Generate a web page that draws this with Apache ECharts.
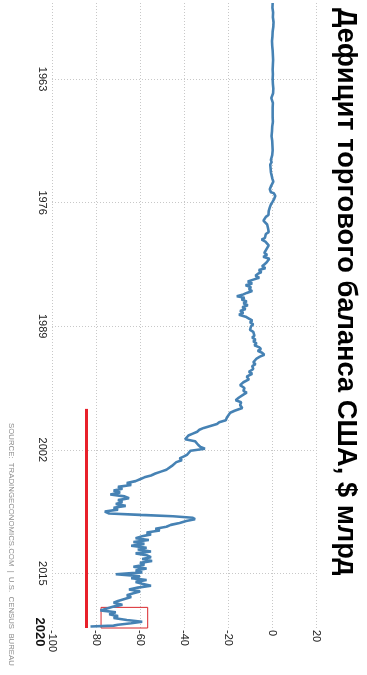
<!DOCTYPE html>
<html><head><meta charset="utf-8">
<script src="https://cdn.jsdelivr.net/npm/echarts@6/dist/echarts.min.js"></script>
<style>html,body{margin:0;padding:0;background:#fff;}#c{width:367px;height:675px;}</style>
</head><body><div id="c"></div>
<script>
const titleText = 'Дефицит торгового баланса США, $ млрд';
const sourceText = 'SOURCE:  TRADINGECONOMICS.COM  |  U.S.  CENSUS  BUREAU';
const yearTicks = [1963, 1976, 1989, 2002, 2015];
const lastYearLabel = '2020';
const firstYear = 1955;
const lastYear = 2020.75;

const years = [
1955.0,1955.5,1956.0,1956.5,1957.0,1957.5,1958.0,1958.5,1959.0,1959.5,
1960.0,1960.5,1961.0,1961.5,1962.0,1962.5,1963.0,1963.5,1964.0,1964.5,
1965.0,1965.5,1966.0,1966.5,1967.0,1967.5,1968.0,1968.5,1969.0,1969.5,
1970.0,1970.5,1971.0,1971.5,1971.75,1972.0,1972.5,1972.8,1973.0,1973.5,
1973.8,1974.0,1974.3,1974.6,1974.9,1975.0,1975.3,1975.6,1975.9,1976.2,
1976.5,1976.7,1976.9,1977.1,1977.3,1977.5,1977.7,1977.9,1978.1,1978.3,
1978.5,1978.7,1978.9,1979.1,1979.3,1979.5,1979.7,1979.9,1980.1,1980.3,
1980.5,1980.7,1980.9,1981.1,1981.3,1981.5,1981.7,1981.9,1982.1,1982.3,
1982.5,1982.7,1982.9,1983.1,1983.3,1983.5,1983.7,1983.9,1984.1,1984.3,
1984.5,1984.7,1984.9,1985.1,1985.3,1985.5,1985.7,1985.85,1986.0,1986.2,
1986.4,1986.6,1986.8,1987.0,1987.2,1987.4,1987.6,1987.8,1988.0,1988.2,
1988.4,1988.6,1988.8,1989.0,1989.2,1989.4,1989.6,1989.8,1990.0,1990.2,
1990.4,1990.6,1990.8,1991.0,1991.2,1991.4,1991.6,1991.8,1992.0,1992.2,
1992.4,1992.6,1992.8,1993.0,1993.2,1993.5,1993.8,1994.0,1994.3,1994.6,
1994.9,1995.2,1995.5,1995.8,1996.0,1996.2,1996.5,1996.8,1997.0,1997.3,
1997.6,1997.9,1998.1,1998.3,1998.6,1998.9,1999.1,1999.3,1999.5,1999.7,
1999.9,2000.1,2000.3,2000.5,2000.7,2000.9,2001.1,2001.3,2001.5,2001.7,
2001.9,2002.1,2002.3,2002.5,2002.7,2002.9,2003.1,2003.3,2003.5,2003.7,
2003.9,2004.1,2004.3,2004.5,2004.7,2004.9,2005.1,2005.3,2005.5,2005.7,
2005.9,2006.1,2006.3,2006.5,2006.7,2006.9,2007.1,2007.3,2007.5,2007.7,
2007.9,2008.1,2008.3,2008.5,2008.7,2008.85,2009.0,2009.15,2009.3,2009.5,
2009.7,2009.9,2010.1,2010.3,2010.5,2010.7,2010.9,2011.1,2011.3,2011.5,
2011.7,2011.9,2012.1,2012.3,2012.5,2012.7,2012.9,2013.1,2013.3,2013.5,
2013.7,2013.9,2014.1,2014.3,2014.5,2014.7,2014.9,2015.1,2015.3,2015.5,
2015.7,2015.9,2016.1,2016.3,2016.5,2016.7,2016.9,2017.1,2017.3,2017.5,
2017.7,2017.9,2018.1,2018.3,2018.5,2018.7,2018.9,2019.1,2019.3,2019.5,
2019.7,2019.9,2020.1,2020.25,2020.4,2020.5,2020.6
];
const balance = [
0.3,0.2,0.5,0.4,0.7,0.6,0.3,0.2,0.0,0.1,
0.3,0.4,0.5,0.4,0.3,0.4,0.3,0.4,0.6,0.5,
-0.3,0.4,0.3,0.3,0.3,0.4,0.1,0.0,-0.2,0.1,
0.2,0.3,0.1,-0.5,-0.2,-0.8,-0.6,-0.5,-0.3,0.2,
0.6,0.3,-0.5,-1.0,-0.5,0.8,1.5,1.0,0.3,-0.5,
-1.0,-0.3,-1.5,-2.4,-1.6,-2.8,-2.0,-3.9,-3.0,-2.2,
-3.0,-1.8,-2.6,-1.5,-2.8,-2.0,-3.2,-4.7,-3.0,-3.8,
-1.5,-0.8,-2.5,-1.8,-3.5,-2.2,-4.0,-1.2,-0.8,-2.5,
-3.5,-4.5,-3.0,-6.0,-4.8,-6.5,-7.5,-5.8,-8.5,-11.0,
-9.0,-12.0,-9.5,-10.5,-9.0,-11.5,-13.5,-16.0,-12.5,-13.8,
-11.5,-13.0,-11.0,-13.5,-12.0,-14.5,-13.0,-15.0,-12.0,-10.5,
-9.0,-10.0,-8.5,-9.5,-8.8,-10.0,-8.5,-9.2,-8.0,-9.0,
-7.5,-8.5,-7.0,-8.0,-6.0,-5.0,-6.5,-4.5,-3.5,-5.5,
-7.0,-6.5,-8.5,-7.5,-9.0,-8.5,-10.5,-9.0,-11.5,-10.5,
-13.0,-14.5,-12.5,-13.0,-11.5,-13.0,-15.0,-16.5,-14.0,-14.5,
-13.5,-17.0,-19.0,-18.5,-20.5,-21.0,-24.0,-25.0,-28.0,-31.0,
-33.0,-34.0,-36.0,-38.0,-37.5,-39.5,-35.0,-34.5,-33.5,-32.5,
-30.5,-37.0,-37.5,-38.5,-40.0,-42.0,-41.0,-43.5,-44.0,-45.5,
-46.0,-48.0,-50.5,-53.0,-55.0,-58.0,-60.0,-62.0,-66.0,-64.0,
-70.0,-68.0,-72.0,-69.0,-73.5,-67.0,-65.0,-70.0,-68.0,-71.0,
-66.5,-72.0,-70.0,-76.0,-74.0,-60.0,-45.0,-36.0,-35.0,-39.0,
-42.0,-46.0,-48.0,-53.0,-51.0,-57.0,-55.0,-59.0,-62.0,-56.0,
-63.0,-58.0,-64.0,-57.0,-61.0,-55.0,-62.0,-57.0,-55.0,-59.0,
-54.5,-60.0,-58.0,-63.0,-57.0,-62.0,-59.0,-71.0,-60.0,-64.0,
-57.0,-62.0,-59.0,-55.0,-61.0,-65.0,-60.0,-63.0,-66.0,-64.0,
-67.0,-70.0,-72.0,-68.0,-72.0,-75.0,-78.0,-71.0,-74.0,-70.0,
-72.0,-66.0,-59.0,-64.0,-70.0,-72.0,-82.5
];

const refLineValue = -84.5;
const refLineYears = [1997.7, 2020.75];
const boxValues = [-77.7, -56.5];
const boxYears = [2018.58, 2020.75];

const FONT = '"Liberation Sans", Arial, sans-serif';
const chart = echarts.init(document.getElementById('c'), null, {renderer: 'canvas'});
const gridStyle = {show: true, lineStyle: {color: '#c8c8c8', width: 1, type: [1, 2]}};

const option = {
  animation: false,
  backgroundColor: '#fff',
  grid: {left: 52, right: 51, top: 3, bottom: 47, containLabel: false},
  xAxis: {
    type: 'value', min: -100, max: 20, interval: 20, position: 'bottom',
    axisLine: {show: false}, axisTick: {show: false},
    axisLabel: {rotate: -90, margin: 2, color: '#222', fontSize: 11, fontFamily: FONT},
    splitLine: gridStyle
  },
  yAxis: {
    type: 'value', min: firstYear, max: lastYear, inverse: true, position: 'left',
    axisLine: {show: false},
    axisTick: {show: false, customValues: yearTicks},
    axisLabel: {rotate: -90, margin: 4, color: '#222', fontSize: 11, fontFamily: FONT,
      customValues: yearTicks, formatter: v => String(Math.round(v))},
    splitLine: gridStyle
  },
  series: [{
    type: 'line',
    data: years.map((y, i) => [balance[i], y]),
    showSymbol: false,
    lineStyle: {color: '#4682b4', width: 2.6},
    itemStyle: {color: '#4682b4'},
    markLine: {
      silent: true, symbol: 'none', label: {show: false},
      lineStyle: {color: '#e8202a', width: 3, type: 'solid'},
      data: [[{coord: [refLineValue, refLineYears[0]]}, {coord: [refLineValue, refLineYears[1]]}]]
    },
    markArea: {
      silent: true, label: {show: false},
      itemStyle: {color: 'rgba(0,0,0,0)', borderColor: '#d9262b', borderWidth: 1},
      data: [[{coord: [boxValues[0], boxYears[0]]}, {coord: [boxValues[1], boxYears[1]]}]]
    }
  }]
};
chart.setOption(option);

const lastPix = chart.convertToPixel({gridIndex: 0}, [-100, lastYear]);
chart.setOption({
  graphic: [
    {type: 'text', x: 346, y: 8, rotation: -Math.PI / 2,
     style: {text: titleText, font: 'bold 27.3px ' + FONT, fill: '#000', align: 'left', verticalAlign: 'middle'}},
    {type: 'text', x: 11, y: 423, rotation: -Math.PI / 2,
     style: {text: sourceText, font: '7.8px ' + FONT, fill: '#8c8c8c', align: 'left', verticalAlign: 'middle'}},
    {type: 'text', x: 40, y: lastPix[1] + 4, rotation: -Math.PI / 2,
     style: {text: lastYearLabel, font: 'bold 13px ' + FONT, fill: '#111', align: 'center', verticalAlign: 'middle'}}
  ]
});
</script></body></html>
